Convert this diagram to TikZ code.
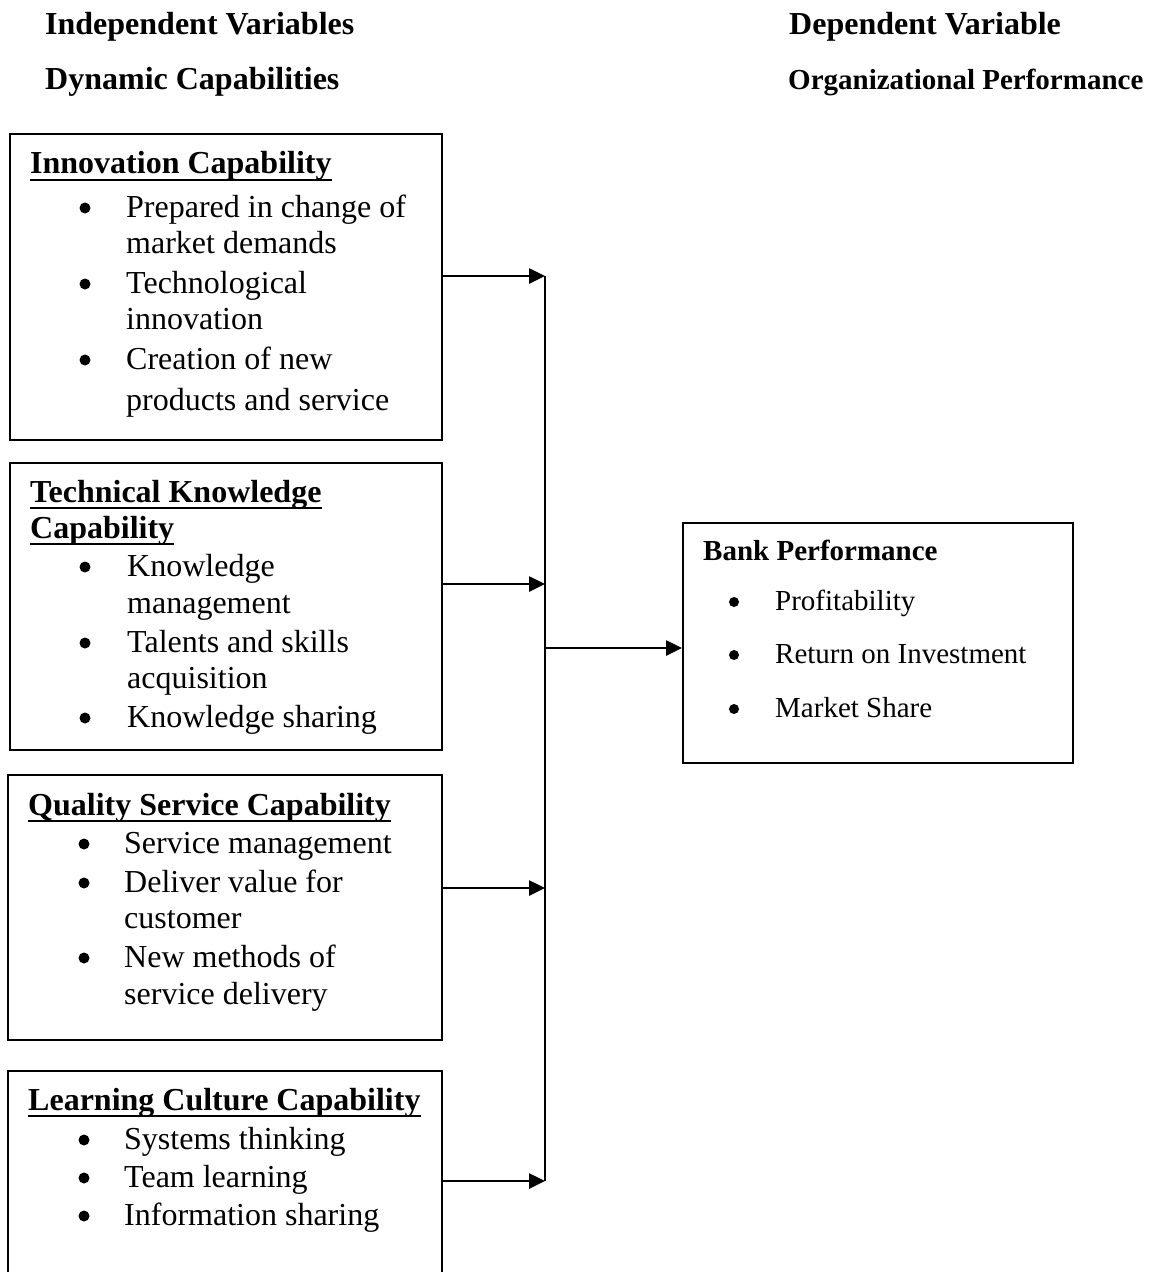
\documentclass[tikz,border=0pt]{standalone}
\usepackage{fontspec}
\setmainfont{Liberation Serif}
\usetikzlibrary{arrows.meta}
\begin{document}
\begin{tikzpicture}[x=1pt,y=-1pt,
  box/.style={draw, line width=2pt, inner sep=0pt, anchor=north west},
  txt/.style={inner sep=0pt, anchor=base west, font=\fontsize{32}{37}\selectfont},
  ttl/.style={inner sep=0pt, anchor=base west, font=\fontsize{32}{37}\selectfont\bfseries},
  hdr/.style={inner sep=0pt, anchor=base west, font=\fontsize{32}{37}\selectfont\bfseries},
  bul/.style={circle, fill=black, inner sep=0pt, minimum size=11pt},
  bbul/.style={circle, fill=black, inner sep=0pt, minimum size=10pt},
  btxt/.style={inner sep=0pt, anchor=base west, font=\fontsize{29}{34}\selectfont},
  arr/.style={line width=2.6pt, -{Triangle[length=16pt,width=15pt]}},
  ul/.style={line width=2.6pt},
  trunk/.style={line width=2pt}]
\clip (0,0) rectangle (1156,1272);
\fill[white] (0,0) rectangle (1156,1272);

% headers
\node[hdr] (h1) at (45,34) {Independent Variables};
\node[hdr] (h2) at (45,89) {Dynamic Capabilities};
\node[hdr] (h3) at (789,34) {Dependent Variable};
\node[hdr, font=\fontsize{29}{34}\selectfont\bfseries] (h4) at (788,89) {Organizational Performance};

% boxes
\node[box, minimum width=432pt, minimum height=306pt] (b1) at (9,133) {};
\node[box, minimum width=432pt, minimum height=287pt] (b2) at (9,462) {};
\node[box, minimum width=434pt, minimum height=265pt] (b3) at (7,774) {};
\node[box, minimum width=434pt, minimum height=260pt] (b4) at (7,1070) {};
\node[box, minimum width=390pt, minimum height=240pt] (bank) at (682,522) {};

% box 1
\node[ttl] (t1) at (30,173) {Innovation Capability};
\draw[ul] ([yshift=-7pt]t1.base west) -- ([yshift=-7pt]t1.base east);
\node[bul] (b1u1) at (85,208) {};
\node[bul] (b1u2) at (85,284) {};
\node[bul] (b1u3) at (85,360) {};
\node[txt] (b1i1) at (126,217) {Prepared in change of};
\node[txt] (b1i2) at (126,253) {market demands};
\node[txt] (b1i3) at (126,293) {Technological};
\node[txt] (b1i4) at (126,329) {innovation};
\node[txt] (b1i5) at (126,369) {Creation of new};
\node[txt] (b1i6) at (126,410) {products and service};

% box 2
\node[ttl] (t2a) at (30,502) {Technical Knowledge};
\draw[ul] ([yshift=-6pt]t2a.base west) -- ([yshift=-6pt]t2a.base east);
\node[ttl] (t2b) at (30,538) {Capability};
\draw[ul] ([yshift=-6pt]t2b.base west) -- ([yshift=-6pt]t2b.base east);
\node[bul] (b2u1) at (85,567) {};
\node[bul] (b2u2) at (85,643) {};
\node[bul] (b2u3) at (85,718) {};
\node[txt] (b2i1) at (127,576) {Knowledge};
\node[txt] (b2i2) at (127,613) {management};
\node[txt] (b2i3) at (127,652) {Talents and skills};
\node[txt] (b2i4) at (127,688) {acquisition};
\node[txt] (b2i5) at (127,727) {Knowledge sharing};

% box 3
\node[ttl] (t3) at (28,815) {Quality Service Capability};
\draw[ul] ([yshift=-6pt]t3.base west) -- ([yshift=-6pt]t3.base east);
\node[bul] (b3u1) at (84,844) {};
\node[bul] (b3u2) at (84,883) {};
\node[bul] (b3u3) at (84,958) {};
\node[txt] (b3i1) at (124,853) {Service management};
\node[txt] (b3i2) at (124,892) {Deliver value for};
\node[txt] (b3i3) at (124,928) {customer};
\node[txt] (b3i4) at (124,967) {New methods of};
\node[txt] (b3i5) at (124,1004) {service delivery};

% box 4
\node[ttl] (t4) at (28,1110) {Learning Culture Capability};
\draw[ul] ([yshift=-6pt]t4.base west) -- ([yshift=-6pt]t4.base east);
\node[bul] (b4u1) at (84,1140) {};
\node[bul] (b4u2) at (84,1178) {};
\node[bul] (b4u3) at (84,1216) {};
\node[txt] (b4i1) at (124,1149) {Systems thinking};
\node[txt] (b4i2) at (124,1187) {Team learning};
\node[txt] (b4i3) at (124,1225) {Information sharing};

% bank box
\node[ttl, font=\fontsize{29}{34}\selectfont\bfseries] (tb) at (703,560) {Bank Performance};
\node[bbul] (bku1) at (734,602) {};
\node[bbul] (bku2) at (734,655) {};
\node[bbul] (bku3) at (734,709) {};
\node[btxt] (bki1) at (775,610) {Profitability};
\node[btxt] (bki2) at (775,663) {Return on Investment};
\node[btxt] (bki3) at (775,717) {Market Share};

% connectors
\coordinate (j1) at (545,276);
\coordinate (j2) at (545,584);
\coordinate (j3) at (545,888);
\coordinate (j4) at (545,1181);
\coordinate (jo) at (545,648);
\draw[trunk] (j1) -- (j4);
\draw[arr] (b1.east |- j1) -- (j1);
\draw[arr] (b2.east |- j2) -- (j2);
\draw[arr] (b3.east |- j3) -- (j3);
\draw[arr] (b4.east |- j4) -- (j4);
\draw[arr] (jo) -- (bank.west |- jo);
\end{tikzpicture}
\end{document}
